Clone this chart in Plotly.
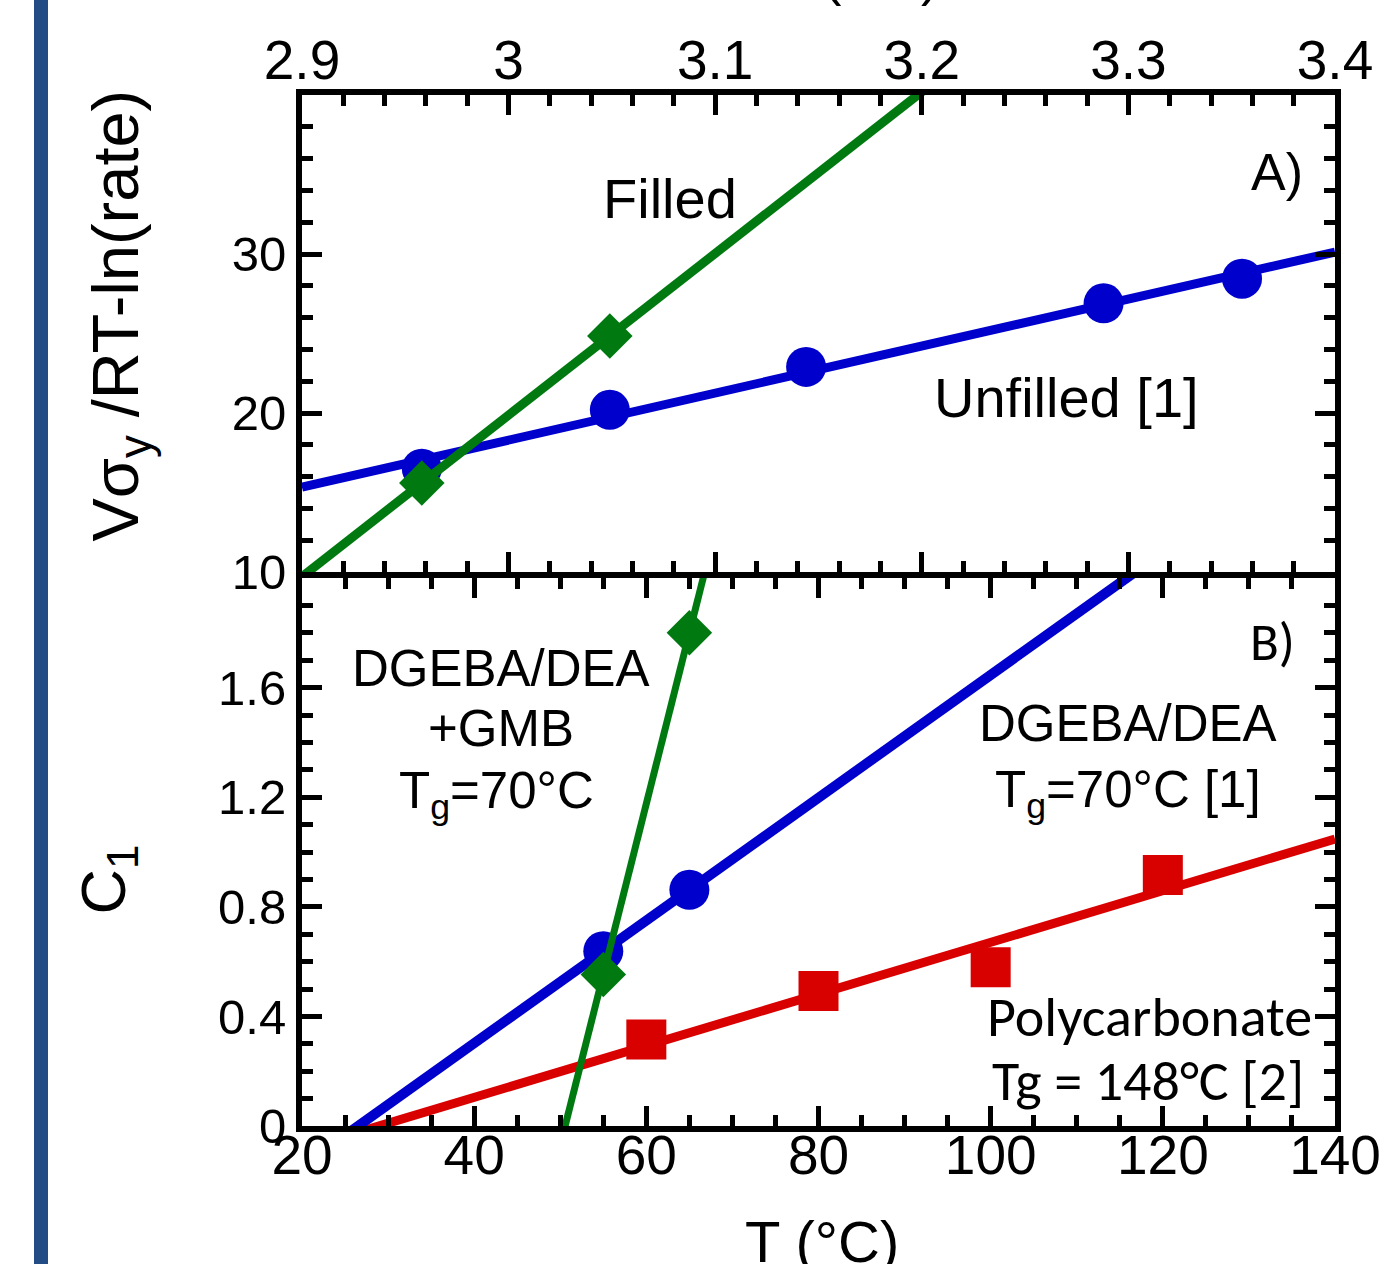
import numpy as np
import plotly.graph_objects as go

# ---------------- data ----------------
# Panel A: 1000/T (1/K) vs V*sigma_y/RT - ln(rate)
invT_unfilled = [2.958, 3.049, 3.144, 3.288, 3.355]
a_unfilled = [16.5, 20.2, 22.9, 26.9, 28.45]
invT_filled = [2.958, 3.049]
a_filled = [15.6, 24.85]

# Panel B: T (°C) vs C1
T_dgeba = [55, 65]
c1_dgeba = [0.638, 0.862]
T_gmb = [55, 65]
c1_gmb = [0.553, 1.80]
T_pc = [60, 80, 100, 120]
c1_pc = [0.316, 0.493, 0.579, 0.916]

top_tickvals = [2.9, 3.0, 3.1, 3.2, 3.3, 3.4]
top_ticktext = ["2.9", "3", "3.1", "3.2", "3.3", "3.4"]
bottom_tickvals = [20, 40, 60, 80, 100, 120, 140]
a_tickvals = [10, 20, 30]
b_tickvals = [0, 0.4, 0.8, 1.2, 1.6]
b_ticktext = ["0", "0.4", "0.8", "1.2", "1.6"]

A_XRANGE = [2.9, 3.4]
A_YRANGE = [10, 40]
B_XRANGE = [20, 140]
B_YRANGE = [0, 2]

BLUE = "#0000CC"
GREEN = "#007A10"
RED = "#D90000"
BAR = "#234B84"

ARIAL = "Liberation Sans, Arial, Helvetica, sans-serif"
CALIBRI = "Carlito, Calibri, Lato, sans-serif"


def fit_line(x, y, lo, hi):
    p = np.polyfit(x, y, 1)
    xs = np.array([lo, hi])
    return xs, np.polyval(p, xs)


fig = go.Figure()

# ---- panel B (bottom): red, blue, green ----
xs, ys = fit_line(T_pc, c1_pc, *B_XRANGE)
fig.add_trace(go.Scatter(x=xs, y=ys, mode="lines", line=dict(color=RED, width=9),
                         xaxis="x", yaxis="y", showlegend=False))
fig.add_trace(go.Scatter(x=T_pc, y=c1_pc, mode="markers",
                         marker=dict(symbol="square", size=40, color=RED),
                         xaxis="x", yaxis="y", showlegend=False))
xs, ys = fit_line(T_dgeba, c1_dgeba, *B_XRANGE)
fig.add_trace(go.Scatter(x=xs, y=ys, mode="lines", line=dict(color=BLUE, width=10),
                         xaxis="x", yaxis="y", showlegend=False))
fig.add_trace(go.Scatter(x=T_dgeba, y=c1_dgeba, mode="markers",
                         marker=dict(symbol="circle", size=40, color=BLUE),
                         xaxis="x", yaxis="y", showlegend=False))
xs, ys = fit_line(T_gmb, c1_gmb, *B_XRANGE)
fig.add_trace(go.Scatter(x=xs, y=ys, mode="lines", line=dict(color=GREEN, width=7),
                         xaxis="x", yaxis="y", showlegend=False))
fig.add_trace(go.Scatter(x=T_gmb, y=c1_gmb, mode="markers",
                         marker=dict(symbol="diamond", size=35, color=GREEN),
                         xaxis="x", yaxis="y", showlegend=False))

# ---- panel A (top): blue, green ----
xs, ys = fit_line(invT_unfilled, a_unfilled, *A_XRANGE)
fig.add_trace(go.Scatter(x=xs, y=ys, mode="lines", line=dict(color=BLUE, width=9),
                         xaxis="x2", yaxis="y2", showlegend=False))
fig.add_trace(go.Scatter(x=invT_unfilled, y=a_unfilled, mode="markers",
                         marker=dict(symbol="circle", size=40, color=BLUE),
                         xaxis="x2", yaxis="y2", showlegend=False))
xs, ys = fit_line(invT_filled, a_filled, *A_XRANGE)
fig.add_trace(go.Scatter(x=xs, y=ys, mode="lines", line=dict(color=GREEN, width=9),
                         xaxis="x2", yaxis="y2", showlegend=False))
fig.add_trace(go.Scatter(x=invT_filled, y=a_filled, mode="markers",
                         marker=dict(symbol="diamond", size=35, color=GREEN),
                         xaxis="x2", yaxis="y2", showlegend=False))

LW = 6


def axis_style(**kw):
    d = dict(showline=True, linewidth=LW, linecolor="black", mirror="ticks",
             ticks="inside", ticklen=20, tickwidth=5, tickcolor="black",
             showgrid=False, zeroline=False, color="black",
             ticklabeloverflow="allow")
    d.update(kw)
    return d


def minor(dtick, tick0):
    return dict(dtick=dtick, tick0=tick0, ticks="inside", ticklen=11, tickwidth=5,
                tickcolor="black", showgrid=False)


W, H = 1385, 1264
M_L, M_R, M_T, M_B = 302, 50, 95, 138
plot_h = H - M_T - M_B
plot_w = W - M_L - M_R
# pixel rows of the shared boundary line (drawn outward from each panel)
B_TOP_PX = 578
A_BOT_PX = B_TOP_PX - LW


def px2paper_x(px):
    return (px - M_L) / plot_w


def px2paper_y(py):
    return (H - M_B - py) / plot_h


fig.update_layout(
    width=W, height=H,
    margin=dict(l=M_L, r=M_R, t=M_T, b=M_B, autoexpand=False),
    paper_bgcolor="white", plot_bgcolor="white",
    template="none",
    xaxis=axis_style(domain=[0, 1], range=B_XRANGE, anchor="y", side="bottom",
                     tickmode="array", tickvals=bottom_tickvals,
                     ticktext=[str(v) for v in bottom_tickvals],
                     minor=minor(5, 20), ticklabelstandoff=-24,
                     tickfont=dict(family=ARIAL, size=55, color="black")),
    yaxis=axis_style(domain=[0, px2paper_y(B_TOP_PX)], range=B_YRANGE, anchor="x",
                     tickmode="array", tickvals=b_tickvals, ticktext=b_ticktext,
                     minor=minor(0.1, 0),
                     tickfont=dict(family=ARIAL, size=49, color="black")),
    xaxis2=axis_style(domain=[0, 1], range=A_XRANGE, anchor="y2", side="top",
                      tickmode="array", tickvals=top_tickvals, ticktext=top_ticktext,
                      minor=minor(0.02, 2.9), ticklabelstandoff=-12,
                      tickfont=dict(family=ARIAL, size=55, color="black")),
    yaxis2=axis_style(domain=[px2paper_y(A_BOT_PX), 1], range=A_YRANGE, anchor="x2",
                      tickmode="array", tickvals=a_tickvals,
                      ticktext=[str(v) for v in a_tickvals],
                      minor=minor(2, 10),
                      tickfont=dict(family=ARIAL, size=49, color="black")),
)

# left decorative bar
fig.add_shape(type="rect", xref="paper", yref="paper",
              x0=px2paper_x(34), x1=px2paper_x(48), y0=px2paper_y(H), y1=px2paper_y(0),
              fillcolor=BAR, line=dict(width=0), layer="above")

ann = []


def add_text(text, x, y, xref, yref, family=ARIAL, size=51, **kw):
    d = dict(text=text, x=x, y=y, xref=xref, yref=yref, showarrow=False,
             font=dict(family=family, size=size, color="black"),
             xanchor="center", yanchor="middle")
    d.update(kw)
    ann.append(d)


# axis titles
add_text("1000/T (1/K)", px2paper_x(792), px2paper_y(8), "paper", "paper",
         size=53, yanchor="bottom")
add_text("T (°C)", px2paper_x(822), px2paper_y(1207), "paper", "paper",
         size=58, yanchor="top")
add_text("Vσ<sub>y</sub> /RT-ln(rate)", px2paper_x(76), px2paper_y(316), "paper", "paper",
         size=65, textangle=-90, xanchor="left")
add_text("C<sub>1</sub>", px2paper_x(65), px2paper_y(880), "paper", "paper",
         size=63, textangle=-90, xanchor="left")

# panel A labels
add_text("Filled", 3.078, 33.48, "x2", "y2", size=56)
add_text("Unfilled [1]", 3.270, 21.0, "x2", "y2", size=56)
add_text("A)", 3.372, 35.15, "x2", "y2", size=52)

# panel B labels
add_text("DGEBA/DEA", 43.1, 1.671, "x", "y", size=51)
add_text("+GMB", 43.1, 1.450, "x", "y", size=51)
add_text("T<sub>g</sub>=70°C", 42.6, 1.21, "x", "y", size=51)
add_text("DGEBA/DEA", 115.9, 1.468, "x", "y", size=51)
add_text("T<sub>g</sub>=70°C [1]", 115.9, 1.215, "x", "y", size=51)
add_text("B)", 132.7, 1.765, "x", "y", family=CALIBRI, size=53)
add_text("Polycarbonate", 118.5, 0.398, "x", "y", family=CALIBRI, size=56)
add_text("Tg = 148°C [2]", 118.3, 0.166, "x", "y", family=CALIBRI, size=56)

fig.update_layout(annotations=ann)

fig.write_html("out.html", config={"displayModeBar": False},
               post_script="document.body.style.margin='0';")
